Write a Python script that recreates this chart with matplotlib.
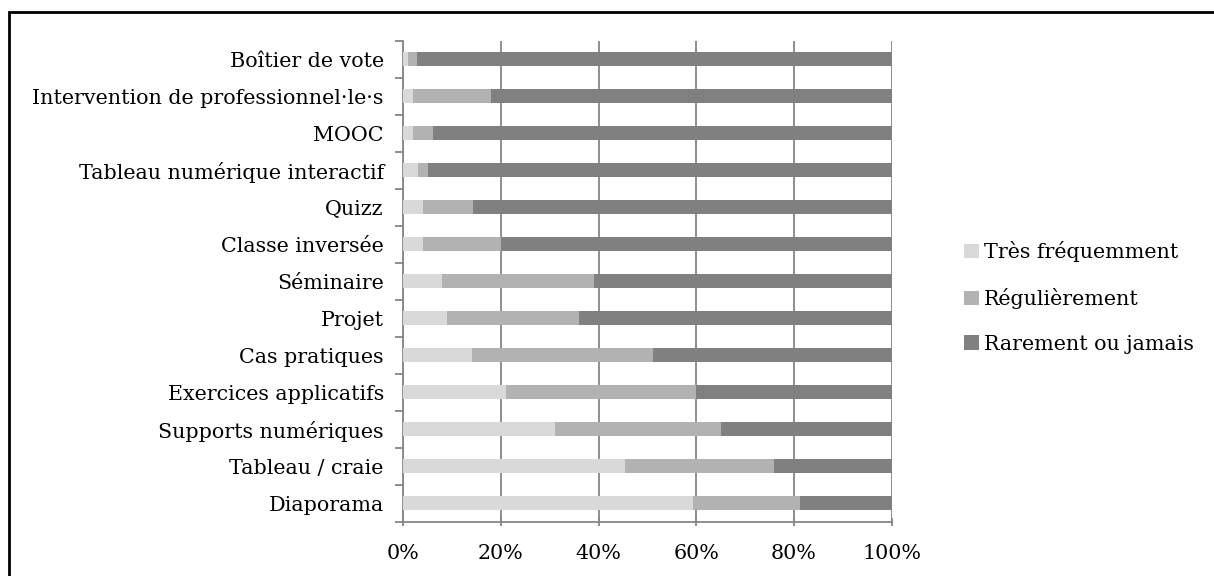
import matplotlib
matplotlib.use("Agg")
import matplotlib.pyplot as plt
from matplotlib.patches import Rectangle
from matplotlib.ticker import PercentFormatter, FixedLocator

categories = ["Boîtier de vote", "Intervention de professionnel·le·s", "MOOC",
              "Tableau numérique interactif", "Quizz", "Classe inversée",
              "Séminaire", "Projet", "Cas pratiques", "Exercices applicatifs",
              "Supports numériques", "Tableau / craie", "Diaporama"]
tres_frequemment = [0.9, 2.0, 2.0, 3.0, 4.1, 4.0, 8.0, 9.0, 14.0, 21.0, 31.1, 45.4, 59.4]
regulierement = [2.0, 15.9, 4.0, 2.1, 10.1, 16.0, 31.1, 27.0, 37.1, 39.0, 33.9, 30.5, 21.9]
rarement = [97.1, 82.1, 94.0, 94.9, 85.8, 80.0, 60.9, 64.0, 48.9, 40.0, 35.0, 24.1, 18.7]
series_names = ["Très fréquemment", "Régulièrement", "Rarement ou jamais"]
series_colors = ["#d9d9d9", "#b2b2b2", "#808080"]
xticks = [0, 20, 40, 60, 80, 100]

plt.rcParams['font.family'] = ['DejaVu Serif']
fs = 14.9

fig = plt.figure(figsize=(12.14, 5.76), dpi=100)
ax = fig.add_axes([403.3 / 1214, (576 - 521.7) / 576, (891.7 - 403.3) / 1214, (521.7 - 40.5) / 576])

y = list(range(len(categories)))[::-1]
left = [0] * len(categories)
for vals, name, col in zip([tres_frequemment, regulierement, rarement], series_names, series_colors):
    ax.barh(y, vals, left=left, height=0.39, color=col, label=name, zorder=3)
    left = [a + b for a, b in zip(left, vals)]

ax.set_xlim(0, 100)
ax.set_ylim(-0.5, len(categories) - 0.5)
ax.set_yticks(y)
ax.set_yticklabels(categories, fontsize=fs)
ax.tick_params(axis='y', length=0, pad=14)
ax.yaxis.set_minor_locator(FixedLocator([i - 0.5 for i in range(len(categories) + 1)]))
ax.tick_params(axis='y', which='minor', length=6, width=1.3, color='#868686', direction='out')
ax.set_xticks(xticks)
ax.xaxis.set_major_formatter(PercentFormatter(decimals=0))
ax.tick_params(axis='x', length=6, width=1.3, color='#868686', direction='inout', labelsize=fs, pad=13)
ax.grid(axis='x', color='#868686', linewidth=1.3, zorder=0)
ax.set_axisbelow(True)
for s in ['top', 'right']:
    ax.spines[s].set_visible(False)
for s in ['left', 'bottom']:
    ax.spines[s].set_color('#868686')
    ax.spines[s].set_linewidth(1.3)

leg = fig.legend(loc='upper left', bbox_to_anchor=(956 / 1214, 1 - 233 / 576), frameon=False,
                 fontsize=fs, handlelength=0.72, handleheight=0.72, handletextpad=0.25,
                 labelspacing=1.25, borderaxespad=0)

fig.patches.append(Rectangle((9 / 1214, -0.2), 1.5, 1.2 - 12 / 576, transform=fig.transFigure,
                             fill=False, edgecolor='black', linewidth=2))

fig.savefig("out.png", dpi=100)
